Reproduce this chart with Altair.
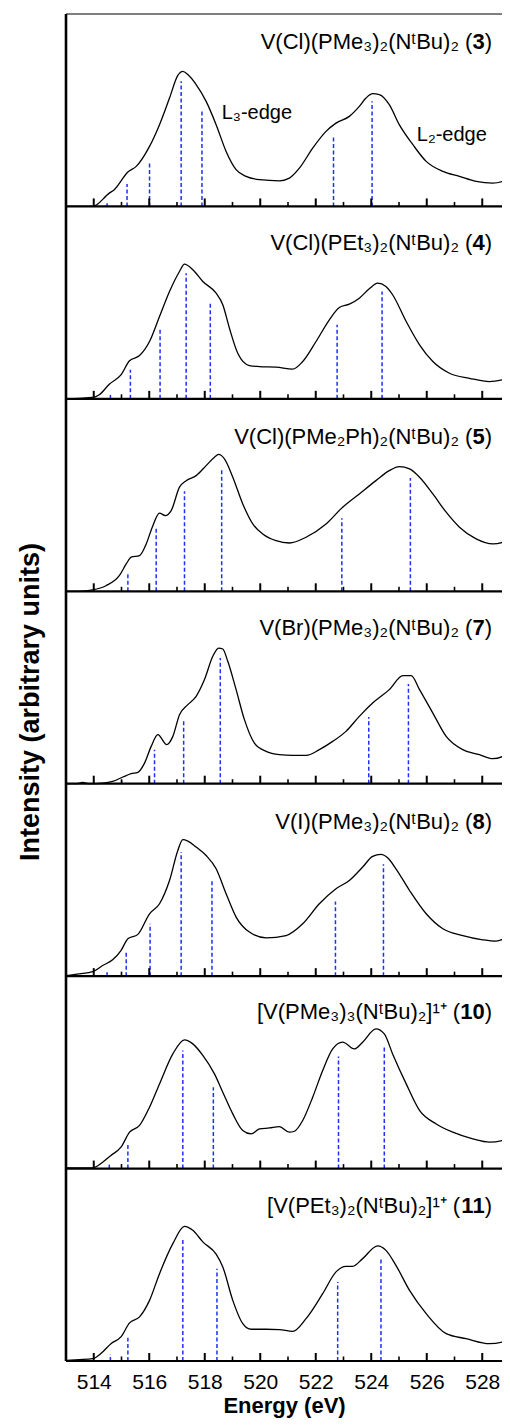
import altair as alt
import pandas as pd

# ---------------- data ----------------
major_ticks = [514, 516, 518, 520, 522, 524, 526, 528]
minor_ticks = [515, 517, 519, 521, 523, 525, 527]

# compound labels (top to bottom), bold compound numbers
names = [
    "V(Cl)(PMe₃)₂(NᵗBu)₂",
    "V(Cl)(PEt₃)₂(NᵗBu)₂",
    "V(Cl)(PMe₂Ph)₂(NᵗBu)₂",
    "V(Br)(PMe₃)₂(NᵗBu)₂",
    "V(I)(PMe₃)₂(NᵗBu)₂",
    "[V(PMe₃)₃(NᵗBu)₂]¹⁺",
    "[V(PEt₃)₂(NᵗBu)₂]¹⁺",
]
numbers = ["3", "4", "5", "7", "8", "10", "11"]
label_h = [85.5, 81, 80, 81, 80, 81.5, 80.5]

# spectra: energy (eV) and intensity (% of panel height)
e1 = [513.00, 513.96, 514.56, 514.74, 515.23, 515.53, 516.01, 516.37, 516.73, 517.03, 517.21, 517.39, 517.69, 518.05,
      518.41, 518.77, 519.13, 519.49, 519.97, 520.69, 521.05, 521.41, 521.89, 522.37, 522.73, 523.21, 523.57, 523.81,
      524.05, 524.29, 524.65, 525.01, 525.50, 525.98, 526.58, 527.18, 527.78, 528.38, 528.74, 528.98]
i1 = [0.0, 0.0, 6.9, 8.7, 17.9, 20.8, 31.2, 42.5, 56.3, 68.1, 70.2, 68.5, 63.3, 54.6,
      42.5, 28.6, 19.1, 15.6, 13.9, 13.3, 14.7, 19.9, 30.3, 39.0, 43.3, 46.8, 52.0, 56.3,
      58.6, 58.1, 52.9, 42.5, 32.1, 23.4, 18.2, 15.6, 13.0, 12.1, 13.0, 14.4]

e2 = [513.00, 513.48, 513.96, 514.20, 514.56, 514.98, 515.29, 515.65, 516.01, 516.37, 516.73, 517.09, 517.27, 517.57,
      517.93, 518.41, 518.65, 518.89, 519.19, 519.61, 519.97, 520.57, 521.17, 521.53, 522.01, 522.49, 522.85, 523.21,
      523.57, 523.93, 524.23, 524.53, 524.77, 525.26, 525.74, 526.22, 526.82, 527.54, 528.26, 528.74, 528.98]
i2 = [0.0, 0.3, 0.7, 2.1, 7.6, 12.5, 19.8, 22.5, 29.8, 42.8, 55.8, 66.2, 70.0, 67.1,
      61.0, 54.9, 48.9, 36.7, 23.7, 17.3, 16.8, 16.5, 15.4, 19.4, 29.8, 41.1, 47.5, 49.2,
      52.3, 57.2, 60.1, 58.4, 54.1, 40.2, 28.1, 19.4, 13.3, 10.7, 9.0, 9.9, 10.7]

e3 = [513.00, 513.48, 513.96, 514.44, 514.92, 515.17, 515.35, 515.65, 515.89, 516.13, 516.37, 516.58, 516.79, 517.09,
      517.33, 517.69, 518.05, 518.35, 518.50, 518.71, 519.01, 519.37, 519.73, 520.09, 520.57, 521.05, 521.65, 522.37,
      522.97, 523.57, 524.17, 524.65, 525.01, 525.38, 525.74, 526.22, 526.70, 527.18, 527.78, 528.38, 528.74, 528.98]
i3 = [0.0, 0.0, 0.7, 2.9, 8.1, 14.2, 17.7, 18.5, 24.6, 34.1, 40.6, 39.3, 41.9, 54.1,
      57.5, 60.1, 65.3, 69.7, 71.1, 68.8, 59.3, 45.4, 35.0, 29.8, 26.3, 25.1, 28.1, 35.0,
      43.7, 50.6, 57.5, 62.7, 64.8, 63.6, 59.3, 50.6, 41.1, 33.3, 27.2, 24.6, 25.5, 28.1]

e4 = [513.00, 513.36, 513.60, 513.84, 514.32, 514.68, 515.05, 515.35, 515.59, 515.83, 516.07, 516.31, 516.63, 516.85,
      517.09, 517.39, 517.69, 517.99, 518.29, 518.50, 518.65, 518.83, 519.13, 519.43, 519.79, 520.21, 520.69, 521.17,
      521.65, 522.13, 522.61, 523.09, 523.57, 524.05, 524.65, 525.14, 525.44, 525.74, 526.22, 526.70, 527.30, 527.90,
      528.38, 528.74, 528.98]
i4 = [0.0, 0.0, 0.7, 0.0, 0.3, 1.2, 3.5, 5.2, 5.9, 10.7, 19.4, 25.5, 20.3, 24.6,
      35.9, 41.1, 45.4, 54.1, 66.2, 70.5, 70.0, 63.6, 48.9, 33.3, 21.1, 16.8, 15.1, 14.7,
      14.7, 17.7, 22.0, 27.2, 35.0, 41.9, 48.9, 56.2, 56.2, 48.9, 36.7, 24.6, 17.7, 15.1,
      13.0, 14.2, 16.3]

e5 = [513.00, 513.48, 513.96, 514.32, 514.68, 514.98, 515.23, 515.59, 516.01, 516.37, 516.73, 517.03, 517.21, 517.39,
      517.69, 518.05, 518.41, 518.77, 519.13, 519.61, 520.21, 520.93, 521.53, 522.13, 522.73, 523.21, 523.69, 524.05,
      524.35, 524.59, 524.89, 525.38, 525.98, 526.58, 527.30, 528.02, 528.50, 528.86, 528.98]
i5 = [0.3, 1.2, 2.3, 5.5, 8.5, 13.3, 19.4, 21.7, 32.4, 37.6, 49.7, 65.3, 70.9, 70.2,
      67.1, 62.7, 55.8, 42.8, 30.7, 22.9, 19.9, 21.1, 27.2, 37.6, 45.4, 49.7, 56.7, 62.2,
      63.3, 61.5, 55.8, 44.5, 32.4, 24.6, 21.1, 18.9, 18.2, 20.3, 21.7]

e6 = [513.00, 513.96, 514.32, 514.62, 514.98, 515.29, 515.65, 516.01, 516.37, 516.85, 517.27, 517.57, 517.93, 518.35,
      518.65, 519.01, 519.37, 519.67, 519.97, 520.33, 520.69, 521.05, 521.23, 521.53, 521.89, 522.25, 522.61, 522.97,
      523.39, 523.69, 524.17, 524.47, 524.77, 525.26, 525.74, 526.34, 526.94, 527.66, 528.26, 528.74, 528.98]
i6 = [0.3, 0.3, 3.3, 6.8, 11.1, 18.9, 22.4, 31.9, 44.0, 59.6, 66.9, 64.8, 58.8, 49.2,
      39.7, 28.4, 19.8, 18.0, 20.6, 21.1, 21.8, 18.9, 19.4, 25.0, 37.1, 51.0, 62.2, 65.7,
      62.2, 65.7, 72.6, 70.0, 59.6, 44.0, 30.2, 23.2, 18.9, 15.4, 13.7, 14.6, 16.3]

e7 = [513.00, 513.48, 513.96, 514.32, 514.62, 514.98, 515.29, 515.65, 516.01, 516.37, 516.85, 517.27, 517.57, 517.93,
      518.41, 518.65, 519.01, 519.37, 519.67, 520.21, 520.69, 521.17, 521.65, 522.25, 522.73, 523.09, 523.33, 523.69,
      524.23, 524.53, 524.89, 525.38, 525.98, 526.70, 527.42, 528.26, 528.74, 528.98]
i7 = [0.3, 0.7, 1.2, 4.7, 9.0, 12.5, 19.8, 22.9, 31.5, 45.4, 61.0, 70.0, 67.9, 61.9,
      55.5, 48.9, 31.5, 19.4, 16.5, 16.5, 16.3, 15.4, 22.0, 35.0, 46.3, 49.2, 49.2, 53.2,
      59.8, 57.5, 49.7, 36.7, 24.6, 14.2, 11.6, 9.0, 9.9, 11.1]

# calculated transitions (blue dashed sticks)
s1_e = [514.48, 515.20, 516.01, 517.15, 517.90, 522.64, 524.03]
s1_i = [1.7, 11.6, 23.4, 65.0, 49.7, 35.9, 54.6]
s2_e = [514.60, 515.32, 516.39, 517.33, 518.20, 522.77, 524.39]
s2_i = [2.9, 15.1, 36.7, 65.3, 50.6, 38.5, 55.8]
s3_e = [515.23, 516.25, 517.27, 518.61, 522.94, 525.41]
s3_i = [9.4, 33.3, 52.0, 63.6, 38.0, 58.9]
s4_e = [515.01, 516.19, 517.24, 518.56, 523.91, 525.34]
s4_i = [1.7, 17.7, 33.6, 65.3, 34.7, 51.8]
s5_e = [514.48, 515.17, 516.03, 517.15, 518.26, 522.71, 524.44]
s5_i = [3.3, 13.3, 27.2, 64.5, 49.7, 38.8, 58.1]
s6_e = [514.56, 515.23, 517.21, 518.31, 522.82, 524.47]
s6_i = [2.1, 12.8, 61.4, 42.3, 58.2, 63.4]
s7_e = [514.60, 515.23, 517.21, 518.44, 522.79, 524.35]
s7_i = [3.5, 12.1, 63.6, 48.0, 41.1, 53.7]

edge_labels = ["L₃-edge", "L₂-edge"]
edge_e = [518.61, 525.64]
edge_h = [48.3, 37.3]

# ---------------- build tables ----------------
PX_PER_EV = 27.75
W, H = 436, 1347            # plot area (page is 510 px wide, chart must fit inside 494 px)
E_MIN = 513
E_MAX = E_MIN + W / PX_PER_EV
E_END = 529
N = 7
PANEL = 100.0
px_per_unit_y = H / (N * PANEL)

spectra = [(e1, i1), (e2, i2), (e3, i3), (e4, i4), (e5, i5), (e6, i6), (e7, i7)]
sticks = [(s1_e, s1_i), (s2_e, s2_i), (s3_e, s3_i), (s4_e, s4_i), (s5_e, s5_i), (s6_e, s6_i), (s7_e, s7_i)]


def base(k):
    return (N - 1 - k) * PANEL


rows = []
for k, (es, iv) in enumerate(spectra):
    for j, (e, v) in enumerate(zip(es, iv)):
        rows.append({"E": e, "y": base(k) + v, "panel": k, "order": j})
curve_df = pd.DataFrame(rows)

rows = []
for k, (es, iv) in enumerate(sticks):
    for e, v in zip(es, iv):
        rows.append({"E": e, "y": base(k), "y2": base(k) + v, "panel": k})
stick_df = pd.DataFrame(rows)

tick_rows = []
for k in range(N):
    for t in major_ticks:
        tick_rows.append({"E": t, "y": base(k), "y2": base(k) + 8 / px_per_unit_y, "kind": "major"})
    for t in minor_ticks:
        tick_rows.append({"E": t, "y": base(k), "y2": base(k) + 4.5 / px_per_unit_y, "kind": "minor"})
tick_df = pd.DataFrame(tick_rows)

sep_df = pd.DataFrame({"E": [E_MIN] * N, "E2": [E_END] * N, "y": [base(k) for k in range(N)]})
top_df = pd.DataFrame({"E": [E_MIN], "E2": [E_END], "y": [N * PANEL]})
vert_df = pd.DataFrame({"E": [E_MIN], "y": [0.0], "y2": [N * PANEL]})

FS = 22
RIGHT_E = 528.35
w_close = 0.333 * FS / PX_PER_EV
lab_rows = []
for k in range(N):
    w_num = 0.556 * FS * len(numbers[k]) / PX_PER_EV
    yk = base(k) + label_h[k]
    lab_rows.append({"E": RIGHT_E - w_close - w_num, "y": yk, "txt": names[k] + " (", "part": "a"})
    lab_rows.append({"E": RIGHT_E - w_close, "y": yk, "txt": numbers[k], "part": "b"})
    lab_rows.append({"E": RIGHT_E, "y": yk, "txt": ")", "part": "c"})
lab_df = pd.DataFrame(lab_rows)

edge_df = pd.DataFrame({"E": edge_e, "y": [base(0) + h for h in edge_h], "txt": edge_labels})

# ---------------- scales / axes ----------------
FONT = "Liberation Sans"
xscale = alt.Scale(domain=[E_MIN, E_MAX], nice=False, zero=False)
yscale = alt.Scale(domain=[0, N * PANEL], nice=False, zero=False)
xaxis = alt.Axis(values=major_ticks, ticks=False, domain=False, grid=False, labelFontSize=21, labelFont=FONT,
                 labelColor="black", labelPadding=10, title="Energy (eV)", titleFont=FONT, titleFontSize=22,
                 titleFontWeight="bold", titleColor="black", titleY=34, labelFlush=False)
yaxis = alt.Axis(labels=False, ticks=False, domain=False, grid=False, title="Intensity (arbitrary units)",
                 titleFont=FONT, titleFontSize=27, titleFontWeight="bold", titleColor="black", titleX=-36,
                 titleY=H / 2 + 14, titleAngle=270, titleAlign="center", titleBaseline="middle")

X = alt.X("E:Q", scale=xscale, axis=xaxis, title="Energy (eV)")
Y = alt.Y("y:Q", scale=yscale, axis=yaxis, title="Intensity (arbitrary units)")

curves = alt.Chart(curve_df).mark_line(color="black", strokeWidth=1.3, interpolate="monotone").encode(
    x=X, y=Y, detail="panel:N", order="order:Q")

stick_layer = alt.Chart(stick_df).mark_rule(color="#1f2fff", strokeWidth=1.5, strokeDash=[4, 2.5]).encode(
    x=X, y=Y, y2="y2:Q")

major_layer = alt.Chart(tick_df[tick_df.kind == "major"]).mark_rule(color="black", strokeWidth=2).encode(
    x=X, y=Y, y2="y2:Q")
minor_layer = alt.Chart(tick_df[tick_df.kind == "minor"]).mark_rule(color="black", strokeWidth=1.6).encode(
    x=X, y=Y, y2="y2:Q")

sep_layer = alt.Chart(sep_df).mark_rule(color="black", strokeWidth=2.2).encode(x=X, x2="E2:Q", y=Y)
top_layer = alt.Chart(top_df).mark_rule(color="black", strokeWidth=1.2).encode(x=X, x2="E2:Q", y=Y)
left_layer = alt.Chart(vert_df).mark_rule(color="black", strokeWidth=2.6).encode(x=X, y=Y, y2="y2:Q")

lab_a = alt.Chart(lab_df[lab_df.part == "a"]).mark_text(align="right", font=FONT, fontSize=FS, color="black").encode(
    x=X, y=Y, text="txt:N")
lab_b = alt.Chart(lab_df[lab_df.part == "b"]).mark_text(align="right", font=FONT, fontSize=FS, fontWeight="bold",
                                                        color="black").encode(x=X, y=Y, text="txt:N")
lab_c = alt.Chart(lab_df[lab_df.part == "c"]).mark_text(align="right", font=FONT, fontSize=FS, color="black").encode(
    x=X, y=Y, text="txt:N")

edge_layer = alt.Chart(edge_df).mark_text(align="left", font=FONT, fontSize=20, color="black").encode(
    x=X, y=Y, text="txt:N")

chart = alt.layer(
    curves, stick_layer, major_layer, minor_layer, sep_layer, top_layer, left_layer,
    lab_a, lab_b, lab_c, edge_layer
).properties(
    width=W, height=H,
    autosize=alt.AutoSizeParams(type="none"),
    padding={"left": 58, "top": 6, "right": 0, "bottom": 58},
    background="white",
).configure_view(stroke=None)

chart.save("out.html", embed_options={"renderer": "svg", "actions": False})
